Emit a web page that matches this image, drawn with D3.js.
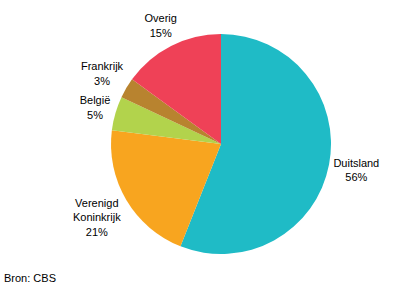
<!DOCTYPE html>
<html>
<head>
<meta charset="utf-8">
<script src="https://cdn.jsdelivr.net/npm/d3@7"></script>
<style>
  body { margin: 0; background: #fff; }
  text { font-family: "Liberation Sans", Arial, sans-serif; font-size: 11px; fill: #000; }
</style>
</head>
<body>
<div id="chart"></div>
<script>
// landen en aandelen (procent)
const countries = [['Duitsland'], ['Verenigd', 'Koninkrijk'], ['België'], ['Frankrijk'], ['Overig']];
const shares = [56, 21, 5, 3, 15];
const colors = ['#1fbbc6', '#f8a51f', '#b2d34c', '#b8832f', '#ef4157'];
const source = 'Bron: CBS';

const width = 396;
const height = 289;
const cx = 221;
const cy = 144;
const radius = 110;
const gap = 2.5;
const lh = 14.5;

const svg = d3.select('#chart')
  .append('svg')
  .attr('width', width)
  .attr('height', height);

const pie = d3.pie().sort(null).value((d) => d);
const arcs = pie(shares);

const arc = d3.arc().innerRadius(0).outerRadius(radius);

const g = svg.append('g').attr('transform', `translate(${cx},${cy})`);

g.selectAll('path')
  .data(arcs)
  .join('path')
  .attr('d', arc)
  .attr('fill', (d, i) => colors[i]);

const labels = g.selectAll('text.label')
  .data(arcs)
  .join('text')
  .attr('class', 'label')
  .attr('text-anchor', 'middle');

labels.each(function (d, i) {
  const lines = countries[i].concat([shares[i] + '%']);
  const y0 = -((lines.length - 1) * lh) / 2 + 4;
  const t = d3.select(this);
  t.selectAll('tspan')
    .data(lines)
    .join('tspan')
    .attr('x', 0)
    .attr('y', (s, j) => y0 + j * lh)
    .text((s) => s);
  // label box just outside the pie edge
  const w = this.getBBox().width;
  const h = lines.length * lh;
  const a = (d.startAngle + d.endAngle) / 2;
  const ux = Math.sin(a);
  const uy = -Math.cos(a);
  const ext = Math.abs(ux) * w / 2 + Math.abs(uy) * h / 2;
  const dist = radius + gap + ext;
  t.attr('transform', `translate(${ux * dist},${uy * dist})`);
});

svg.append('text')
  .attr('x', 4)
  .attr('y', 282)
  .text(source);
</script>
</body>
</html>
